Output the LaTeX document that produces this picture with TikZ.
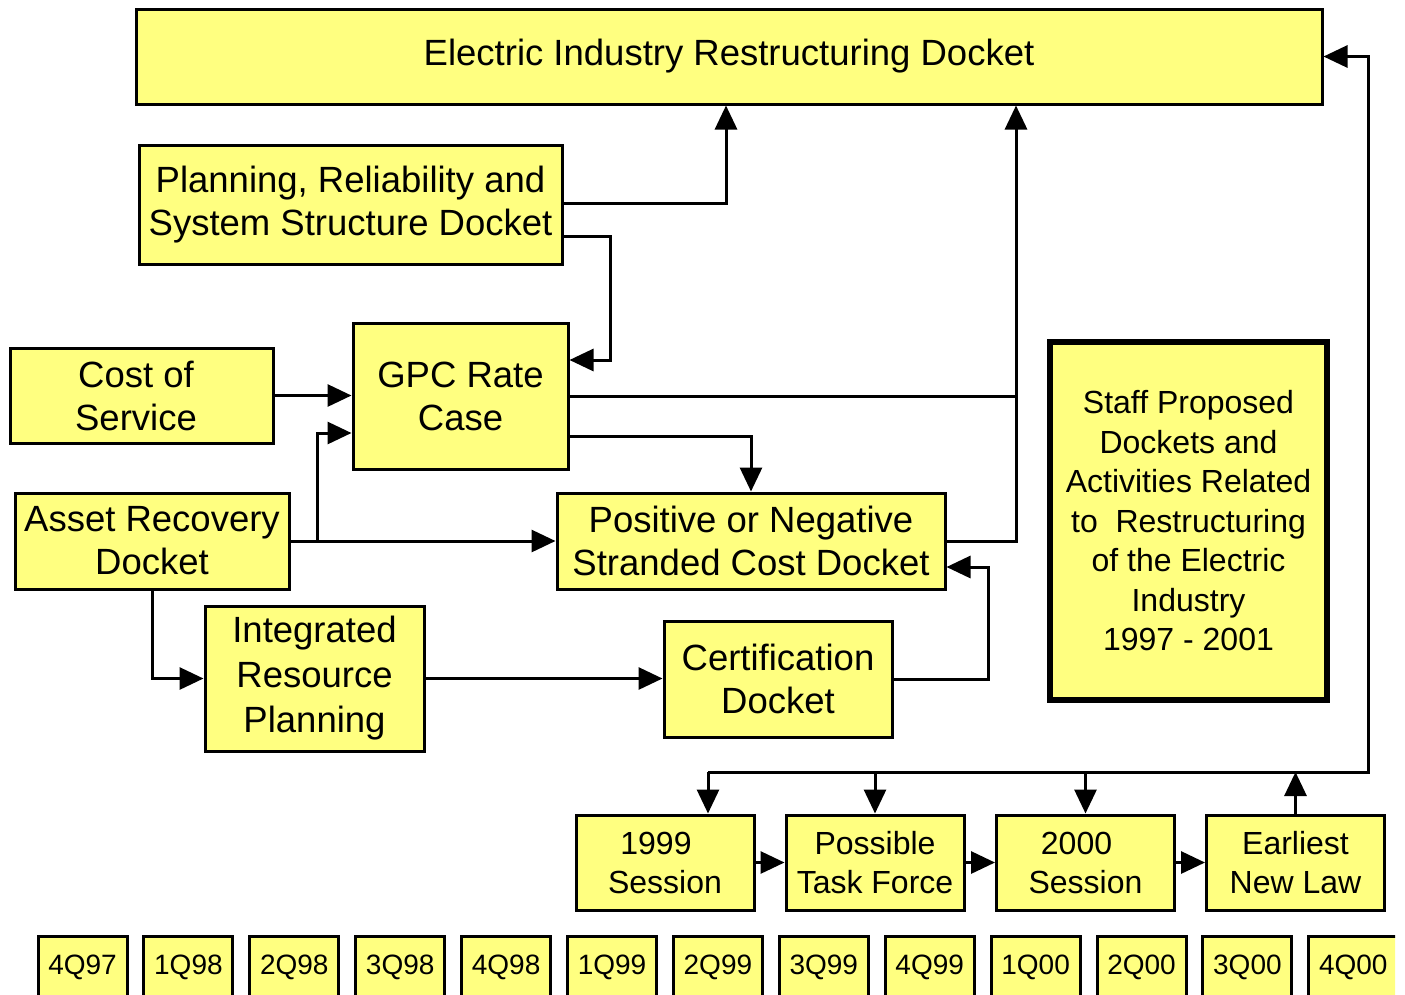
\documentclass[tikz,border=0pt]{standalone}
\usepackage{fontspec}
\setmainfont{Liberation Sans}
\usetikzlibrary{arrows.meta}
\definecolor{boxfill}{HTML}{FFFF80}
\begin{document}
\begin{tikzpicture}[x=1pt,y=-1pt,
  box/.style={draw=black, line width=3pt, fill=boxfill, inner sep=0pt, align=center,
              font=\fontsize{36.5}{43}\selectfont},
  sbox/.style={box, minimum width=178pt, minimum height=95pt, font=\fontsize{32}{39}\selectfont},
  qbox/.style={draw=black, line width=3pt, fill=boxfill, inner sep=0pt, anchor=north,
               minimum width=89pt, text height=38pt, text depth=38pt,
               font=\fontsize{28}{32}\selectfont},
  ln/.style={line width=3pt},
  arr/.style={line width=3pt, -{Triangle[length=24pt,width=22pt]}},
]
\useasboundingbox (0,0) rectangle (1405,994);
\clip (0,0) rectangle (1405,994);
\fill[white] (0,0) rectangle (1405,994);

% main dockets
\node[box, minimum width=1186pt, minimum height=95pt] (top) at (729,56.5)
  {Electric Industry Restructuring Docket};
\node[box, minimum width=423pt, minimum height=119pt] (plan) at (350.5,204.5)
  {Planning, Reliability and\\System Structure Docket};
\node[box, minimum width=263pt, minimum height=95pt] (cost) at (141.5,395.5)
  {Cost of\hspace*{11pt}\\Service\hspace*{11pt}};
\node[box, minimum width=215pt, minimum height=146pt] (gpc) at (460.5,396)
  {GPC Rate\\Case};
\node[box, minimum width=274pt, minimum height=96pt] (asset) at (152,541)
  {Asset Recovery\\Docket};
\node[box, minimum width=388pt, minimum height=96pt] (pos) at (751,541)
  {Positive or Negative\\Stranded Cost Docket};
\node[box, minimum width=219pt, minimum height=145pt, font=\fontsize{36.5}{45}\selectfont]
  (irp) at (314.5,678.5) {Integrated\\Resource\\Planning};
\node[box, minimum width=228pt, minimum height=116pt] (cert) at (778,679)
  {Certification\\Docket};
\node[box, line width=6.5pt, minimum width=277pt, minimum height=358pt,
      font=\fontsize{32}{39.5}\selectfont] (staff) at (1188.5,521)
  {Staff Proposed\\Dockets and\\Activities Related\\to~~Restructuring\\of the Electric\\Industry\\1997 - 2001};

% legislative sessions
\node[sbox] (s99)  at (665,862.5)    {1999\hspace*{18pt}\\Session};
\node[sbox] (task) at (875,862.5)    {Possible\\Task Force};
\node[sbox] (s00)  at (1085.5,862.5) {2000\hspace*{18pt}\\Session};
\node[sbox] (law)  at (1295.5,862.5) {Earliest\\New Law};

% quarter timeline, cut off at the right edge
\begin{scope}
\clip (0,920) rectangle (1395,994);
\foreach \q [count=\i from 0] in {4Q97,1Q98,2Q98,3Q98,4Q98,1Q99,2Q99,3Q99,4Q99,1Q00,2Q00,3Q00,4Q00}
  \node[qbox] (q\i) at ({82.5+105.9*\i},935) {\q};
\end{scope}

% bend points
\coordinate (j1) at (726,203);
\coordinate (j2) at (610,236);
\coordinate (j3) at (610,360);
\coordinate (j4) at (317,433);
\coordinate (j5) at (1016,396);
\coordinate (j6) at (751,436);
\coordinate (j7) at (988,567);
\coordinate (busL) at (708,772);
\coordinate (busR) at (1368,772);

% connectors
\draw[arr] (plan.east |- j1) -| (top.south -| j1);
\draw[arr] (plan.east |- j2) -- (j2) -- (j3) -- (gpc.east |- j3);
\draw[arr] (cost.east) -- (gpc.west |- cost.east);
\draw[arr] (asset.east) -| (j4) -- (gpc.west |- j4);
\draw[arr] (asset.east) -- (pos.west);
\draw[arr] (gpc.east |- j5) -| (top.south -| j5);
\draw[ln]  (pos.east) -| (j5);
\draw[arr] (gpc.east |- j6) -| (pos.north);
\draw[arr] (asset.south) |- (irp.west);
\draw[arr] (irp.east) -- (cert.west |- irp.east);
\draw[arr] (cert.east) -| (j7) -- (pos.east |- j7);

\draw[arr] (busL) -- (busR) |- (top.east);
\draw[arr] (law.north) -- (law.north |- busR);
\draw[arr] (busL) -- (busL |- s99.north);
\draw[arr] (busL -| task.north) -- (task.north);
\draw[arr] (busL -| s00.north) -- (s00.north);

\draw[arr] (s99.east) -- (task.west);
\draw[arr] (task.east) -- (s00.west);
\draw[arr] (s00.east) -- (law.west);
\end{tikzpicture}
\end{document}
